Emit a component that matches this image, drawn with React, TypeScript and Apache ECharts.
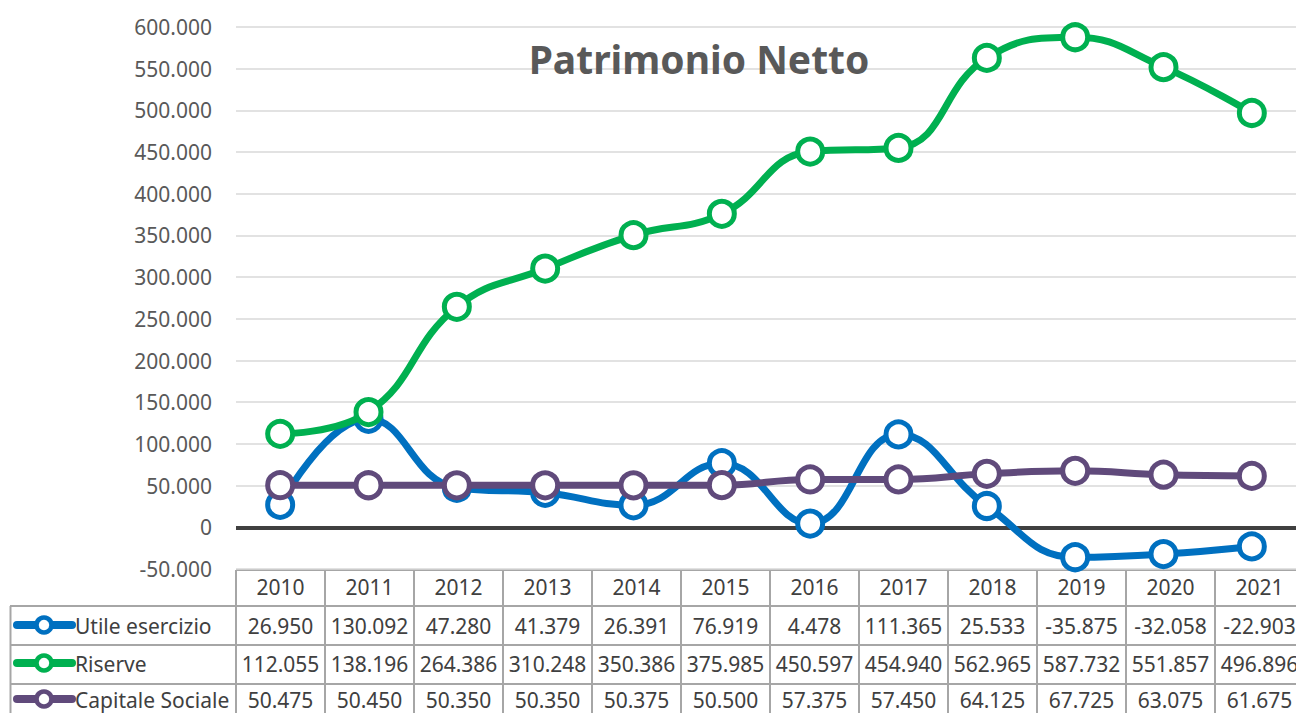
import React, { useEffect, useRef } from "react";
import * as echarts from "echarts";

const years = ["2010", "2011", "2012", "2013", "2014", "2015", "2016", "2017", "2018", "2019", "2020", "2021"];
const utileEsercizio = [26950, 130092, 47280, 41379, 26391, 76919, 4478, 111365, 25533, -35875, -32058, -22903];
const riserve = [112055, 138196, 264386, 310248, 350386, 375985, 450597, 454940, 562965, 587732, 551857, 496896];
const capitaleSociale = [50475, 50450, 50350, 50350, 50375, 50500, 57375, 57450, 64125, 67725, 63075, 61675];
const seriesNames = ["Utile esercizio", "Riserve", "Capitale Sociale"];
const seriesColors = ["#0070C0", "#00B050", "#604A7B"];
const yMin = -50000;
const yMax = 600000;
const yStep = 50000;

const fmt = (v: number): string => {
  if (v === 0) return "0";
  const s = Math.abs(Math.round(v)).toString().replace(/\B(?=(\d{3})+(?!\d))/g, ".");
  return (v < 0 ? "-" : "") + s;
};

const FONT = "'Noto Sans', 'Open Sans', sans-serif";

export default function App() {
  const ref = useRef<HTMLDivElement>(null);
  useEffect(() => {
    if (!ref.current) return;
    const chart = echarts.init(ref.current, undefined, { renderer: "svg" });
    const gridLeft = 236;
    const colW = 89;
    const gridTop = 27;
    const gridBottomY = 569;
    const gridW = colW * years.length;
    const dataSets = [utileEsercizio, riserve, capitaleSociale];

    const tableTop = 570;
    const rowTops = [606, 645, 684, 723];
    const rowCenters = [626, 664, 700];
    const lineColor = "#A6A6A6";
    const textColor = "#404040";
    const graphics: any[] = [];
    const rightEdge = gridLeft + gridW;
    graphics.push({ type: "line", silent: true, shape: { x1: gridLeft, y1: tableTop, x2: rightEdge, y2: tableTop }, style: { stroke: lineColor, lineWidth: 2 } });
    rowTops.forEach((y) => {
      graphics.push({ type: "line", silent: true, shape: { x1: 10, y1: y, x2: rightEdge, y2: y }, style: { stroke: lineColor, lineWidth: 2 } });
    });
    for (let k = 0; k <= years.length; k++) {
      const x = gridLeft + k * colW;
      graphics.push({ type: "line", silent: true, shape: { x1: x, y1: tableTop, x2: x, y2: 723 }, style: { stroke: lineColor, lineWidth: 2 } });
    }
    graphics.push({ type: "line", silent: true, shape: { x1: 10.5, y1: 606, x2: 10.5, y2: 723 }, style: { stroke: lineColor, lineWidth: 2 } });
    years.forEach((yr, i) => {
      graphics.push({
        type: "text", silent: true, x: gridLeft + (i + 0.5) * colW, y: 587,
        style: { text: yr, fill: textColor, font: `21px ${FONT}`, textAlign: "center", textVerticalAlign: "middle" },
      });
    });
    dataSets.forEach((arr, r) => {
      const cy = rowCenters[r];
      arr.forEach((v, i) => {
        graphics.push({
          type: "text", silent: true, x: gridLeft + (i + 0.5) * colW, y: cy,
          style: { text: fmt(v), fill: textColor, font: `21px ${FONT}`, textAlign: "center", textVerticalAlign: "middle" },
        });
      });
      graphics.push({ type: "line", silent: true, shape: { x1: 17, y1: cy - 1, x2: 72, y2: cy - 1 }, style: { stroke: seriesColors[r], lineWidth: 8, lineCap: "round" } });
      graphics.push({ type: "circle", silent: true, shape: { cx: 44, cy: cy - 1, r: 7.5 }, style: { fill: "#fff", stroke: seriesColors[r], lineWidth: 4.5 } });
      graphics.push({
        type: "text", silent: true, x: 75, y: cy,
        style: { text: seriesNames[r], fill: textColor, font: `21px ${FONT}`, textAlign: "left", textVerticalAlign: "middle" },
      });
    });

    chart.setOption({
      animation: false,
      backgroundColor: "#fff",
      title: {
        text: "Patrimonio Netto",
        left: 694,
        top: 34,
        textAlign: "center",
        textStyle: { fontFamily: FONT, fontWeight: "bold", fontSize: 39, color: "#595959" },
      },
      grid: { left: gridLeft, top: gridTop, width: gridW, height: gridBottomY - gridTop, containLabel: false },
      xAxis: {
        type: "category",
        data: years,
        boundaryGap: true,
        axisLine: { show: false },
        axisTick: { show: false },
        axisLabel: { show: false },
        splitLine: { show: false },
      },
      yAxis: {
        type: "value",
        min: yMin,
        max: yMax,
        interval: yStep,
        axisLine: { show: false },
        axisTick: { show: false },
        axisLabel: { formatter: (v: number) => fmt(v), color: "#595959", fontFamily: FONT, fontSize: 21, margin: 24 },
        splitLine: { lineStyle: { color: "#D9D9D9", width: 1.5 } },
      },
      series: dataSets.map((arr, i) => ({
        name: seriesNames[i],
        type: "line",
        data: arr,
        smooth: 0.45,
        symbol: "circle",
        symbolSize: 25,
        lineStyle: { color: seriesColors[i], width: 7 },
        itemStyle: { color: "#fff", borderColor: seriesColors[i], borderWidth: 5 },
        z: 3 + i,
        markLine: i === 0 ? {
          silent: true,
          symbol: "none",
          label: { show: false },
          lineStyle: { color: "#404040", width: 4, type: "solid" },
          data: [{ yAxis: 0 }],
          z: 2,
        } : undefined,
      })),
      graphic: graphics,
    });
    return () => chart.dispose();
  }, []);
  return <div ref={ref} style={{ position: "fixed", left: 0, top: 0, width: 1296, height: 713 }} />;
}
